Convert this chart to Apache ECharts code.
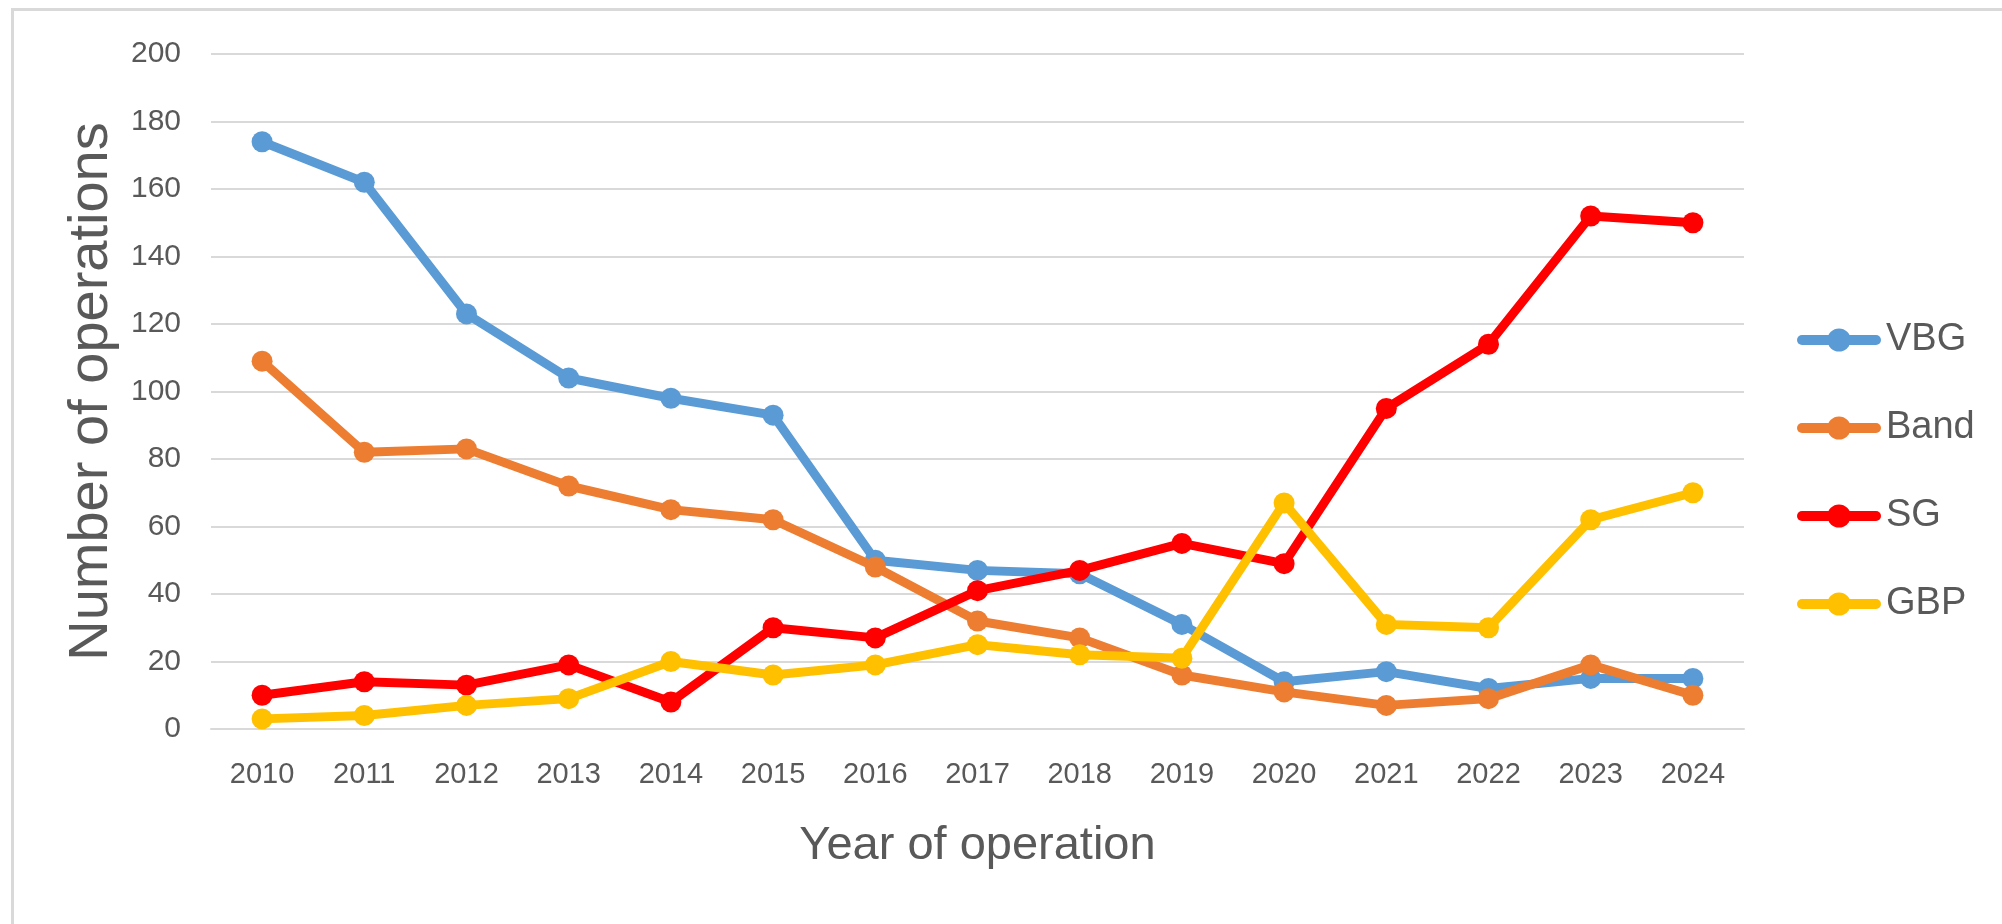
<!DOCTYPE html>
<html>
<head>
<meta charset="utf-8">
<script src="https://cdn.jsdelivr.net/npm/echarts@6/dist/echarts.min.js"></script>
<style>
html,body{margin:0;padding:0;background:#fff;}
#chart{width:2002px;height:924px;}
</style>
</head>
<body>
<div id="chart"></div>
<script>
const years = ['2010','2011','2012','2013','2014','2015','2016','2017','2018','2019','2020','2021','2022','2023','2024'];
const seriesNames = ['VBG','Band','SG','GBP'];
const vbg  = [174,162,123,104,98,93,50,47,46,31,14,17,12,15,15];
const band = [109,82,83,72,65,62,48,32,27,16,11,7,9,19,10];
const sg   = [10,14,13,19,8,30,27,41,47,55,49,95,114,152,150];
const gbp  = [3,4,7,9,20,16,19,25,22,21,67,31,30,62,70];
const colors = ['#5B9BD5','#ED7D31','#FF0000','#FFC000'];
const xTitle = 'Year of operation';
const yTitle = 'Number of operations';

const values = [vbg, band, sg, gbp];
const chart = echarts.init(document.getElementById('chart'));
const font = '"Liberation Sans", Arial, sans-serif';
chart.setOption({
  animation: false,
  backgroundColor: '#fff',
  graphic: [{
    type: 'rect', left: 10, top: 7,
    shape: {x: 0, y: 0, width: 2100, height: 1000},
    style: {fill: 'none', stroke: '#d9d9d9', lineWidth: 3},
    silent: true, z: -1
  }],
  grid: {left: 211, right: 258, top: 54, bottom: 195, containLabel: false},
  legend: {
    orient: 'vertical',
    left: 1792, top: 316,
    itemWidth: 74, itemHeight: 29,
    itemGap: 50,
    lineStyle: {width: 10, cap: 'round'},
    textStyle: {fontFamily: font, fontSize: 38, color: '#595959', padding: [0,0,0,5]},
    data: seriesNames
  },
  xAxis: {
    type: 'category',
    data: years,
    boundaryGap: true,
    axisLine: {show: true, lineStyle: {color: '#d9d9d9', width: 2}},
    axisTick: {show: false},
    axisLabel: {fontFamily: font, fontSize: 29, color: '#595959', margin: 31},
    name: xTitle,
    nameLocation: 'middle',
    nameGap: 94,
    nameTextStyle: {fontFamily: font, fontSize: 47, color: '#595959'}
  },
  yAxis: {
    type: 'value',
    min: 0, max: 200, interval: 20,
    axisLine: {show: false},
    axisTick: {show: false},
    splitLine: {lineStyle: {color: '#d9d9d9', width: 2}},
    axisLabel: {fontFamily: font, fontSize: 30, color: '#595959', margin: 30},
    name: yTitle,
    nameLocation: 'middle',
    nameGap: 88,
    nameTextStyle: {fontFamily: font, fontSize: 56, color: '#595959'}
  },
  series: seriesNames.map((n, i) => ({
    name: n,
    type: 'line',
    data: values[i],
    symbol: 'circle',
    symbolSize: 21,
    lineStyle: {width: 9, color: colors[i], cap: 'round', join: 'round'},
    itemStyle: {color: colors[i]},
    z: 2 + i
  }))
});
</script>
</body>
</html>
